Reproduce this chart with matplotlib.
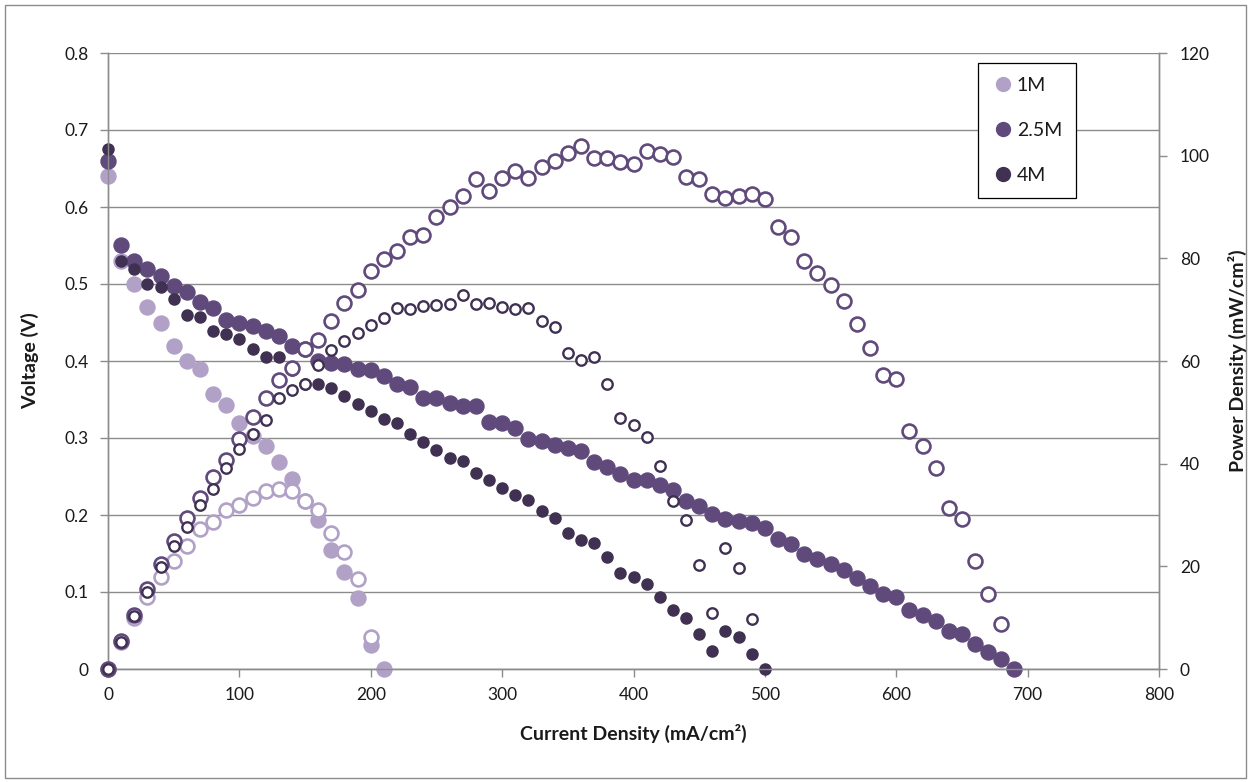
import matplotlib
matplotlib.use("Agg")
import matplotlib.pyplot as plt
from matplotlib.lines import Line2D
from matplotlib.patches import Rectangle

plt.rcParams['font.family'] = ['Lato', 'DejaVu Sans']

# ---------------- data ----------------
x_1M = [0, 10, 20, 30, 40, 50, 60, 70, 80, 90, 100, 110, 120, 130, 140, 150,
        160, 170, 180, 190, 200, 210]
v_1M = [0.64, 0.53, 0.50, 0.47, 0.45, 0.42, 0.40, 0.39, 0.357, 0.343, 0.320,
        0.303, 0.289, 0.269, 0.247, 0.218, 0.193, 0.155, 0.126, 0.092, 0.031, 0.0]
p_1M = [0, 5.3, 10.0, 14.1, 18.0, 21.0, 24.0, 27.3, 28.6, 30.9, 32.0, 33.3,
        34.7, 35.0, 34.6, 32.7, 30.9, 26.4, 22.7, 17.5, 6.2]

x_25M = [0, 10, 20, 30, 40, 50, 60, 70, 80, 90, 100, 110, 120, 130, 140, 150,
         160, 170, 180, 190, 200, 210, 220, 230, 240, 250, 260, 270, 280, 290,
         300, 310, 320, 330, 340, 350, 360, 370, 380, 390, 400, 410, 420, 430,
         440, 450, 460, 470, 480, 490, 500, 510, 520, 530, 540, 550, 560, 570,
         580, 590, 600, 610, 620, 630, 640, 650, 660, 670, 680, 690]
v_25M = [0.66, 0.55, 0.53, 0.52, 0.51, 0.497, 0.49, 0.477, 0.469, 0.453, 0.449,
         0.445, 0.439, 0.433, 0.419, 0.416, 0.40, 0.398, 0.396, 0.389, 0.388,
         0.380, 0.370, 0.366, 0.352, 0.352, 0.346, 0.341, 0.341, 0.321, 0.319,
         0.313, 0.299, 0.296, 0.291, 0.287, 0.283, 0.269, 0.262, 0.253, 0.246,
         0.246, 0.239, 0.232, 0.218, 0.212, 0.201, 0.195, 0.192, 0.189, 0.183,
         0.169, 0.162, 0.150, 0.143, 0.136, 0.128, 0.118, 0.108, 0.097, 0.094,
         0.076, 0.070, 0.062, 0.049, 0.045, 0.032, 0.022, 0.013, 0.0]
p_25M = [0, 5.5, 10.6, 15.6, 20.4, 24.9, 29.4, 33.4, 37.5, 40.8, 44.9, 49.0,
         52.7, 56.3, 58.7, 62.4, 64.0, 67.7, 71.3, 73.9, 77.6, 79.8, 81.4, 84.2,
         84.5, 88.0, 90.0, 92.1, 95.5, 93.1, 95.7, 97.0, 95.7, 97.7, 98.9, 100.5,
         101.9, 99.5, 99.6, 98.7, 98.4, 100.9, 100.4, 99.8, 95.9, 95.4, 92.5,
         91.7, 92.2, 92.6, 91.5, 86.2, 84.2, 79.5, 77.2, 74.8, 71.7, 67.3, 62.6,
         57.2, 56.4, 46.4, 43.4, 39.1, 31.4, 29.3, 21.1, 14.7, 8.8]

x_4M = [0, 10, 20, 30, 40, 50, 60, 70, 80, 90, 100, 110, 120, 130, 140, 150,
        160, 170, 180, 190, 200, 210, 220, 230, 240, 250, 260, 270, 280, 290,
        300, 310, 320, 330, 340, 350, 360, 370, 380, 390, 400, 410, 420, 430,
        440, 450, 460, 470, 480, 490, 500]
v_4M = [0.675, 0.53, 0.52, 0.50, 0.496, 0.48, 0.46, 0.457, 0.439, 0.435, 0.429,
        0.416, 0.405, 0.405, 0.388, 0.37, 0.37, 0.365, 0.355, 0.344, 0.335,
        0.325, 0.320, 0.305, 0.295, 0.284, 0.274, 0.270, 0.254, 0.246, 0.235,
        0.226, 0.220, 0.205, 0.196, 0.176, 0.167, 0.164, 0.146, 0.125, 0.119,
        0.110, 0.094, 0.076, 0.066, 0.045, 0.024, 0.050, 0.041, 0.020, 0.0]
p_4M = [0, 5.3, 10.4, 15.0, 19.8, 24.0, 27.6, 32.0, 35.1, 39.2, 42.9, 45.8,
        48.6, 52.7, 54.3, 55.5, 59.2, 62.1, 63.9, 65.4, 67.0, 68.3, 70.4, 70.2,
        70.8, 71.0, 71.2, 72.9, 71.1, 71.3, 70.5, 70.1, 70.4, 67.7, 66.6, 61.6,
        60.1, 60.7, 55.5, 48.8, 47.6, 45.1, 39.5, 32.7, 29.0, 20.3, 11.0, 23.5,
        19.7, 9.8]

series_labels = ['1M', '2.5M', '4M']
x_ticks = [0, 100, 200, 300, 400, 500, 600, 700, 800]
v_ticks = [0, 0.1, 0.2, 0.3, 0.4, 0.5, 0.6, 0.7, 0.8]
v_tick_labels = ['0', '0.1', '0.2', '0.3', '0.4', '0.5', '0.6', '0.7', '0.8']
p_ticks = [0, 20, 40, 60, 80, 100, 120]

# ---------------- style ----------------
c1, c2, c3 = '#B2A1C7', '#604A7B', '#403152'
grid_c = '#8C8C8C'
axis_c = '#8C8C8C'
txt_c = '#1A1A1A'

fig = plt.figure(figsize=(12.51, 7.82), dpi=100)
fig.patches.append(Rectangle((0.004, 0.005), 0.992, 0.988, transform=fig.transFigure,
                             fill=False, edgecolor='#8C8C8C', linewidth=1.0))
ax = fig.add_axes([108 / 1251, 1 - 669 / 782, (1159 - 108) / 1251, (669 - 53) / 782])
ax2 = ax.twinx()

ax.set_xlim(0, 800)
ax.set_ylim(0, 0.8)
ax2.set_ylim(0, 120)

ax.set_xticks(x_ticks)
ax.set_yticks(v_ticks)
ax.set_yticklabels(v_tick_labels)
ax2.set_yticks(p_ticks)

ax.yaxis.grid(True, color=grid_c, linewidth=1.0)
ax.set_axisbelow(True)

for a in (ax, ax2):
    a.spines['top'].set_visible(False)
    for s in ('left', 'right', 'bottom'):
        a.spines[s].set_color(axis_c)
        a.spines[s].set_linewidth(1.0)
    a.tick_params(colors=axis_c, labelcolor=txt_c, labelsize=12.5, length=6, width=1)
ax.tick_params(axis='y', pad=8)
ax.tick_params(axis='x', pad=7)
ax2.tick_params(axis='y', pad=9)

# voltage (filled)
ax.plot(x_1M, v_1M, 'o', ms=10.8, color=c1, mec=c1, zorder=3, clip_on=False)
ax.plot(x_25M, v_25M, 'o', ms=10.8, color=c2, mec=c2, zorder=3, clip_on=False)
ax.plot(x_4M, v_4M, 'o', ms=8.0, color=c3, mec=c3, zorder=3, clip_on=False)

# power (hollow)
ax2.plot(x_1M[:len(p_1M)], p_1M, 'o', ms=10.0, mfc='white', mec=c1, mew=1.9,
         zorder=3, clip_on=False)
ax2.plot(x_25M[:len(p_25M)], p_25M, 'o', ms=10.0, mfc='white', mec=c2, mew=1.9,
         zorder=3, clip_on=False)
ax2.plot(x_4M[:len(p_4M)], p_4M, 'o', ms=7.5, mfc='white', mec=c3, mew=1.7,
         zorder=3, clip_on=False)

ax.set_xlabel('Current Density (mA/cm²)', fontsize=14, fontweight='bold', color=txt_c)
ax.set_ylabel('Voltage (V)', fontsize=14, fontweight='bold', color=txt_c)
ax2.set_ylabel('Power Density (mW/cm²)', fontsize=14, fontweight='bold', color=txt_c,
               rotation=90)
ax.xaxis.set_label_coords(0.5, -(733 - 669) / 616, transform=ax.transAxes)
ax.yaxis.set_label_coords(-(108 - 30) / 1051, 0.5)
ax2.yaxis.set_label_coords(1 + (1237 - 1159) / 1051, 0.5)
ax.xaxis.label.set_va('center')
ax.yaxis.label.set_va('center')
ax2.yaxis.label.set_va('center')

handles = [Line2D([], [], marker='o', ls='none', ms=10, color=c) for c in (c1, c2, c3)]
leg = ax2.legend(handles, series_labels, loc='upper left',
                 bbox_to_anchor=((978 - 108) / 1051, (669 - 63) / 616),
                 frameon=True, fancybox=False, edgecolor='black', framealpha=1,
                 fontsize=14, labelspacing=1.45, handletextpad=0.1,
                 handlelength=1.2, borderpad=0.7, borderaxespad=0)
leg.get_frame().set_linewidth(0.9)
for t in leg.get_texts():
    t.set_color(txt_c)

fig.savefig('out.png', dpi=100)
